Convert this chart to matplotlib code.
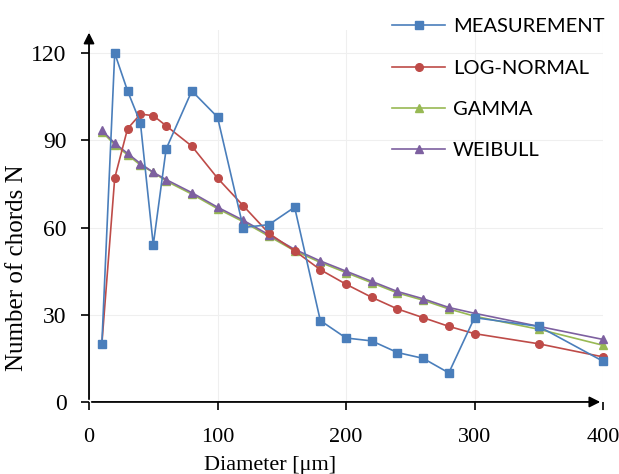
import matplotlib
matplotlib.use("Agg")
import matplotlib.pyplot as plt

# chord diameter distribution
diam = [10, 20, 30, 40, 50, 60, 80, 100, 120, 140, 160, 180, 200, 220, 240, 260, 280, 300, 350, 400]
measurement = [20, 120, 107, 96, 54, 87, 107, 98, 60, 61, 67, 28, 22, 21, 17, 15, 10, 29, 26, 14]
lognormal = [20, 77, 94, 99, 98.5, 95, 88, 77, 67.5, 58, 52, 45.5, 40.5, 36, 32, 29, 26, 23.5, 20, 15.5]
gamma = [93, 88.5, 85, 81.5, 79, 76, 71.5, 66.5, 62, 57, 52, 48, 44.5, 41, 37.5, 35, 32, 29.5, 25, 19.5]
weibull = [93.5, 89, 85.5, 82, 79, 76.5, 72, 67, 62.5, 57.5, 52.5, 48.5, 45, 41.5, 38, 35.5, 32.5, 30.5, 26, 21.5]

xticks = [0, 100, 200, 300, 400]
yticks = [0, 30, 60, 90, 120]

fig = plt.figure(figsize=(6.19, 4.74), dpi=100)
ax = fig.add_axes([0.1438, 0.152, 0.8304, 0.785])

ax.plot(diam, measurement, color="#4A7EBB", marker="s", ms=5.5, lw=1.2, label="MEASUREMENT", clip_on=False, zorder=5)
ax.plot(diam, lognormal, color="#BE4B48", marker="o", ms=5.5, lw=1.2, label="LOG-NORMAL", clip_on=False, zorder=4)
ax.plot(diam, gamma, color="#98B954", marker="^", ms=5.5, lw=1.2, label="GAMMA", clip_on=False, zorder=3)
ax.plot(diam, weibull, color="#7D60A0", marker="^", ms=5.5, lw=1.2, label="WEIBULL", clip_on=False, zorder=3)

ax.set_xlim(0, 400)
ax.set_ylim(0, 128)
ax.set_xticks(xticks)
ax.set_yticks(yticks)
ax.grid(True, color="#efefef", lw=0.8)
ax.set_axisbelow(True)

for s in ax.spines.values():
    s.set_visible(False)
# axis arrows
ax.annotate("", xy=(1.0, 0), xytext=(0, 0), xycoords="axes fraction",
            arrowprops=dict(arrowstyle="-|>", color="black", lw=1.3, mutation_scale=16))
ax.annotate("", xy=(0, 1.0), xytext=(0, 0), xycoords="axes fraction",
            arrowprops=dict(arrowstyle="-|>", color="black", lw=1.3, mutation_scale=16))

serif = "Liberation Serif"
ax.tick_params(direction="out", length=6, width=1.2)
ax.tick_params(axis="x", pad=13, labelsize=16)
ax.tick_params(axis="y", pad=10, labelsize=17)
for lab in ax.get_xticklabels() + ax.get_yticklabels():
    lab.set_fontfamily(serif)
ax.set_xlabel("Diameter [μm]", fontfamily=serif, fontsize=16)
ax.set_ylabel("Number of chords N", fontfamily=serif, fontsize=18)
ax.xaxis.set_label_coords(0.352, -0.145)
ax.yaxis.set_label_coords(-0.118, 0.36)

leg = ax.legend(loc="upper left", bbox_to_anchor=(0.555, 1.08), frameon=False,
                prop={"family": "Lato", "size": 14.5}, labelspacing=1.2,
                handlelength=2.6, handletextpad=0.4)

fig.savefig("out.png", dpi=100)
